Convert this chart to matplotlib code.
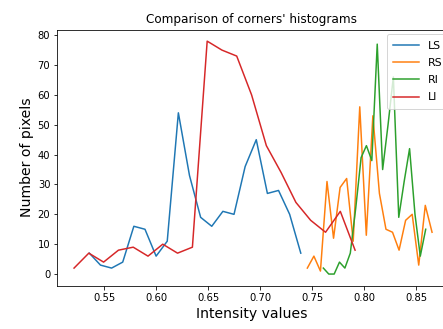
import matplotlib
matplotlib.use("Agg")
import matplotlib.pyplot as plt

# Bin centres (intensity) and pixel counts for each corner region
ls_x = [0.5356, 0.5463, 0.5570, 0.5677, 0.5784, 0.5891, 0.5998, 0.6105, 0.6212, 0.6319,
        0.6426, 0.6533, 0.6640, 0.6747, 0.6854, 0.6961, 0.7068, 0.7175, 0.7282, 0.7389]
ls_y = [7, 3, 2, 4, 16, 15, 6, 11, 54, 33, 19, 16, 21, 20, 36, 45, 27, 28, 20, 7]

rs_x = [0.7452, 0.7515, 0.7578, 0.7641, 0.7704, 0.7767, 0.7830, 0.7893, 0.7956, 0.8019,
        0.8082, 0.8145, 0.8208, 0.8271, 0.8334, 0.8397, 0.8460, 0.8523, 0.8586, 0.8651]
rs_y = [2, 6, 1, 31, 12, 29, 32, 11, 56, 13, 53, 27, 15, 14, 8, 18, 20, 3, 23, 14]

ri_x = [0.7606, 0.7658, 0.7710, 0.7761, 0.7813, 0.7865, 0.7917, 0.7969, 0.8020, 0.8072,
        0.8124, 0.8176, 0.8228, 0.8279, 0.8331, 0.8383, 0.8435, 0.8487, 0.8538, 0.8590]
ri_y = [2, 0, 0, 4, 2, 7, 22, 39, 43, 38, 77, 35, 50, 66, 19, 31, 42, 20, 6, 15]

li_x = [0.5209, 0.5351, 0.5493, 0.5636, 0.5778, 0.5920, 0.6062, 0.6204, 0.6347, 0.6489,
        0.6631, 0.6773, 0.6916, 0.7058, 0.7200, 0.7342, 0.7484, 0.7627, 0.7769, 0.7911]
li_y = [2, 7, 4, 8, 9, 6, 10, 7, 9, 78, 75, 73, 60, 43, 34, 24, 18, 14, 21, 8]

DPI = 72
W, H = 443, 329
fig = plt.figure(figsize=(W / DPI, H / DPI), dpi=DPI)
ax = fig.add_axes([57.3 / W, 43.3 / H, 389.2 / W, 256.2 / H])

ax.plot(ls_x, ls_y, color="#1f77b4", label="LS")
ax.plot(rs_x, rs_y, color="#ff7f0e", label="RS")
ax.plot(ri_x, ri_y, color="#2ca02c", label="RI")
ax.plot(li_x, li_y, color="#d62728", label="LI")

ax.set_xlim(0.5048, 0.8790)
ax.set_ylim(-3.9, 81.9)
ax.set_xticks([0.55, 0.60, 0.65, 0.70, 0.75, 0.80, 0.85])
ax.set_yticks([0, 10, 20, 30, 40, 50, 60, 70, 80])

ax.set_title("Comparison of corners' histograms", fontsize=12)
ax.set_xlabel("Intensity values", fontsize=14)
ax.set_ylabel("Number of pixels", fontsize=14)
ax.legend(loc="upper left", fontsize=11, handlelength=2.3, borderaxespad=0,
          labelspacing=0.66, borderpad=0.6,
          bbox_to_anchor=(386.7 / W, (H - 34) / H), bbox_transform=fig.transFigure)

fig.savefig("out.png", dpi=DPI)
